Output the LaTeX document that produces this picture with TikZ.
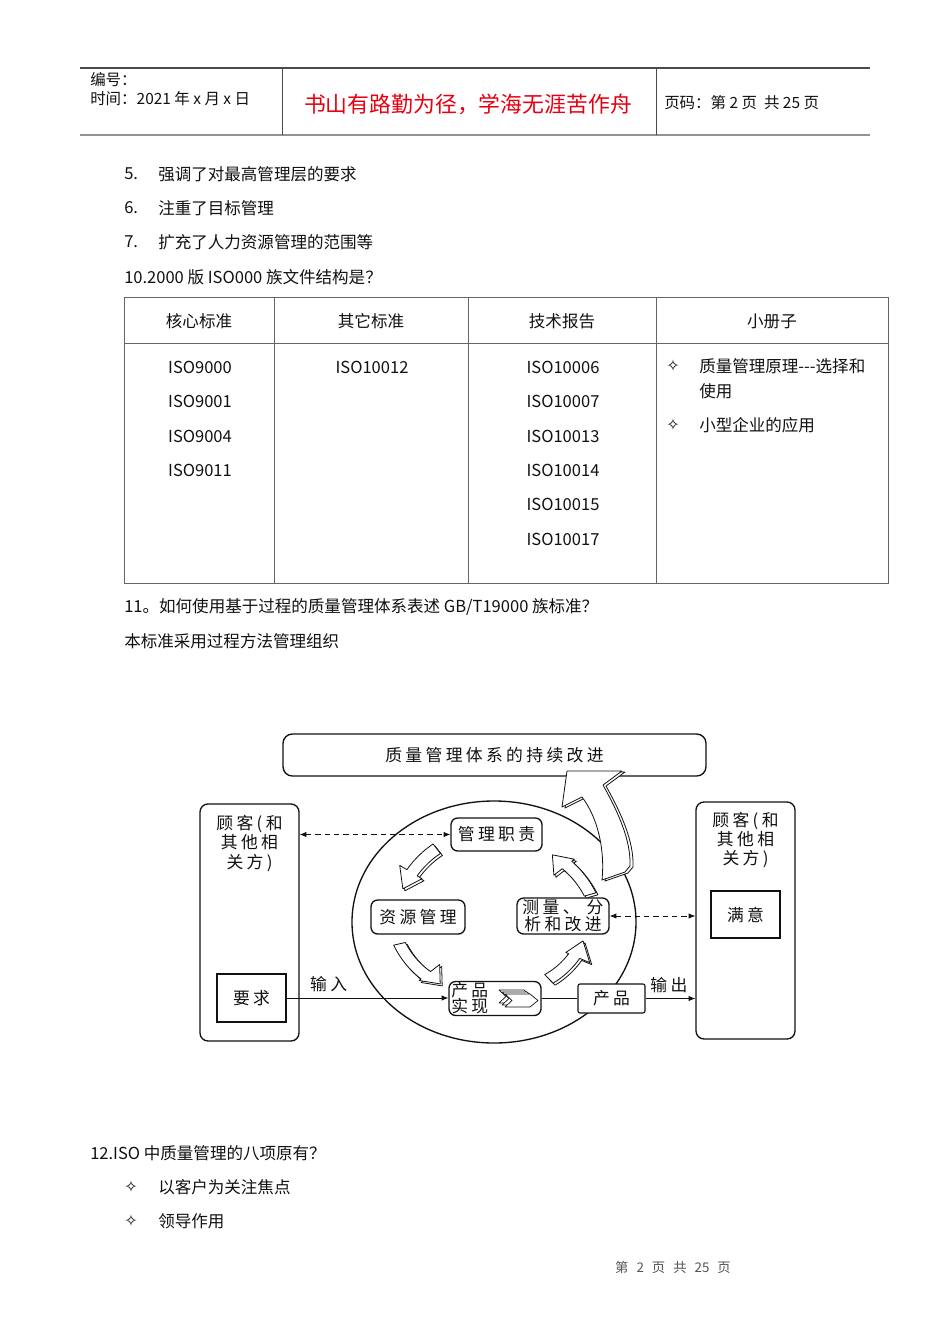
\documentclass[tikz,border=0pt]{standalone}
\usepackage{fontspec}
\setmainfont{Noto Sans CJK SC}
\newfontfamily\dingfont{DejaVu Sans}
\newfontfamily\diagfont[LetterSpace=20]{Noto Sans CJK SC}
\usetikzlibrary{arrows.meta,positioning,shapes.geometric,calc}
\definecolor{ink}{HTML}{111111}
\definecolor{rule}{HTML}{4A4A4A}
\definecolor{motto}{HTML}{E60012}
\definecolor{foot}{HTML}{555555}
\def\pxu{0.75pt}
\tikzset{
  body/.style={font=\fontsize{12.4}{15}\selectfont,text=ink,inner sep=0pt,anchor=west},
  cell/.style={body,anchor=center},
  tag/.style={font=\fontsize{11.6}{14}\selectfont,text=ink,inner sep=0pt,anchor=west},
  star/.style={font=\dingfont\fontsize{12}{14}\selectfont,text=ink,inner sep=0pt},
  diag/.style={font=\diagfont\fontsize{12.6}{14.3}\selectfont,text=ink,align=center,inner sep=0pt},
  roundbox/.style={diag,draw=ink,line width=1pt,rounded corners=5pt,fill=white},
  plainbox/.style={diag,draw=ink,line width=1pt,fill=white},
  link/.style={-{Latex[length=5pt,width=4pt]},draw=ink,line width=0.6pt},
  twoway/.style={{Latex[length=5pt,width=4pt]}-{Latex[length=5pt,width=4pt]},draw=ink,line width=0.6pt,dash pattern=on 4pt off 3pt},
  hollow/.style={draw=ink,line width=0.6pt,fill=white,line join=round},
  tableline/.style={draw=rule!85,line width=0.6pt}
}
% curved hollow arrow round the cycle: start angle, end angle, start radius, end radius
\newcommand\cyclearrow[4]{%
  \foreach \sx/\sy in {2/2,0/0}{%
    \draw[hollow,shift={(494+\sx,922+\sy)}]
      plot[domain=#1:#2+11,samples=12] (\x:{#3+(#4-#3)*(\x-(#1))/((#2)-(#1))-6})
      -- ({#2+11}:{#4-13}) -- ({#2}:{#4}) -- ({#2+11}:{#4+13})
      -- plot[domain=#2+11:#1,samples=12] (\x:{#3+(#4-#3)*(\x-(#1))/((#2)-(#1))+6})
      -- cycle;
  }%
}
\begin{document}
\begin{tikzpicture}[x=0.75pt,y=-0.75pt]
\fill[white] (0,0) rectangle (950,1344);
\path[use as bounding box] (0,0) rectangle (950,1344);

% page header
\draw[rule,line width=1pt] (80,68) -- (870,68);
\draw[rule!60,line width=2pt] (80,135) -- (870,135);
\draw[rule,line width=0.7pt] (282,68) -- (282,135);
\draw[rule,line width=0.7pt] (656,68) -- (656,135);
\node[tag] (serial) at (90,80) {编号：};
\node[tag] (date) at (90,99) {时间：2021 年 x 月 x 日};
\node[font=\fontsize{16.4}{20}\selectfont,text=motto,inner sep=0pt] (motto) at (468,104) {书山有路勤为径，学海无涯苦作舟};
\node[tag] (pageno) at (664,103) {页码：第 2 页\ \ 共 25 页};

% list and question 10
\node[body] (n5) at (124,174) {5.};
\node[body] (t5) at (158,174) {强调了对最高管理层的要求};
\node[body] (n6) at (124,208) {6.};
\node[body] (t6) at (158,208) {注重了目标管理};
\node[body] (n7) at (124,242) {7.};
\node[body] (t7) at (158,242) {扩充了人力资源管理的范围等};
\node[body] (q10) at (124,277) {10.2000 版 ISO000 族文件结构是？};

% table
\draw[tableline] (124,297) rectangle (888,583);
\draw[tableline] (124,343) -- (888,343);
\draw[tableline] (274,297) -- (274,583);
\draw[tableline] (468,297) -- (468,583);
\draw[tableline] (656,297) -- (656,583);
\node[cell] (hcore) at (199,321) {核心标准};
\node[cell] (hother) at (371,321) {其它标准};
\node[cell] (htech) at (562,321) {技术报告};
\node[cell] (hbook) at (772,321) {小册子};
\node[cell] (c1) at (200,367) {ISO9000};
\node[cell] (c2) at (200,401) {ISO9001};
\node[cell] (c3) at (200,436) {ISO9004};
\node[cell] (c4) at (200,470) {ISO9011};
\node[cell] (o1) at (372,367) {ISO10012};
\node[cell] (r1) at (563,367) {ISO10006};
\node[cell] (r2) at (563,401) {ISO10007};
\node[cell] (r3) at (563,436) {ISO10013};
\node[cell] (r4) at (563,470) {ISO10014};
\node[cell] (r5) at (563,504) {ISO10015};
\node[cell] (r6) at (563,539) {ISO10017};
\node[star] (b1) at (673,366) {✧};
\node[body] (bk1) at (699,366) {质量管理原理-{}-{}-选择和};
\node[body] (bk1b) at (699,391) {使用};
\node[star] (b2) at (673,425) {✧};
\node[body] (bk2) at (699,425) {小型企业的应用};

% question 11
\node[body] (q11) at (124,607) {11。如何使用基于过程的质量管理体系表述 GB/T19000 族标准？};
\node[body] (method) at (124,641) {本标准采用过程方法管理组织};

% process model
\node[ellipse,draw=ink,line width=1pt,minimum width=284*\pxu,minimum height=242*\pxu,inner sep=0pt] (cycle) at (494,922) {};
\node[roundbox,minimum width=423*\pxu,minimum height=42*\pxu,rounded corners=7pt] (goal) at (494.5,755) {质量管理体系的持续改进};
\foreach \sx/\sy in {3/1,0/0}
  \draw[hollow,shift={(\sx,\sy)}] (567,771) -- (622,771) -- (603,785)
    .. controls (618,812) and (631,840) .. (630,866) -- (625,872) -- (602,880)
    .. controls (605,850) and (598,818) .. (582,797) -- (562,807) -- cycle;

\node[roundbox,minimum width=99*\pxu,minimum height=237*\pxu,rounded corners=6pt] (custL) at (249.5,922.5) {};
\node[diag,below=9pt of custL.north] (custLlabel) {顾客(和\\其他相\\关方)};
\node[plainbox,minimum width=69*\pxu,minimum height=48*\pxu] (req) at (251.5,998) {要求};
\node[roundbox,minimum width=99*\pxu,minimum height=237*\pxu,rounded corners=6pt] (custR) at (745.5,920.5) {};
\node[diag,below=8pt of custR.north] (custRlabel) {顾客(和\\其他相\\关方)};
\node[plainbox,minimum width=69*\pxu,minimum height=47*\pxu] (sat) at (745.5,914.5) {满意};

\node[roundbox,minimum width=91*\pxu,minimum height=33*\pxu] (mgmt) at (496.5,834.5) {管理职责};
\node[roundbox,minimum width=94*\pxu,minimum height=34*\pxu] (res) at (418,917) {资源管理};
\node[roundbox,minimum width=92*\pxu,minimum height=36*\pxu,font=\diagfont\fontsize{12.6}{12.6}\selectfont] (meas) at (563,916) {测量、 分\\析和改进};
\node[roundbox,minimum width=92*\pxu,minimum height=34*\pxu] (real) at (495,998.5) {};
\node[diag,font=\diagfont\fontsize{12.6}{12}\selectfont,right=2pt of real.west] (realtext) {产品\\实现};
\foreach \o in {2,1,0}
  \draw[hollow,line width=0.5pt,shift={(-\o*3,-\o*2)}] (505,994) -- (530,994) -- (538,1000.5) -- (530,1007) -- (505,1007) -- (512,1000.5) -- cycle;
\node[draw=ink,line width=0.8pt,fill=white,rounded corners=1.5pt,minimum width=67*\pxu,minimum height=29*\pxu,diag] (prod) at (611.5,998.5) {产品};

\cyclearrow{232}{200}{93}{97}
\cyclearrow{167}{131}{97}{82}
\cyclearrow{46}{12}{79}{91}
\cyclearrow{344}{311}{100}{89}

\draw[twoway] (custL.east |- mgmt.west) -- (mgmt.west);
\draw[twoway] (meas.east) -- (custR.west |- meas.east);
\draw[link] (req.east) -- node[diag,above=4pt,pos=0.26] {输入} (req.east -| real.west);
\draw[ink,line width=0.6pt] (real.east) -- (prod.west);
\draw[link] (prod.east) -- node[diag,above=4pt,pos=0.47] {输出} (prod.east -| custR.west);

% question 12
\node[body] (q12) at (90,1153) {12.ISO 中质量管理的八项原有？};
\node[star] (s1) at (131,1187) {✧};
\node[body] (p1) at (158,1187) {以客户为关注焦点};
\node[star] (s2) at (131,1221) {✧};
\node[body] (p2) at (158,1221) {领导作用};

% footer
\node[font=\fontsize{10}{12}\selectfont,text=foot,inner sep=0pt] (footer) at (673,1267) {第\hspace{0.6em}2\hspace{0.6em}页\hspace{0.6em}共\hspace{0.6em}25\hspace{0.6em}页};
\end{tikzpicture}
\end{document}
